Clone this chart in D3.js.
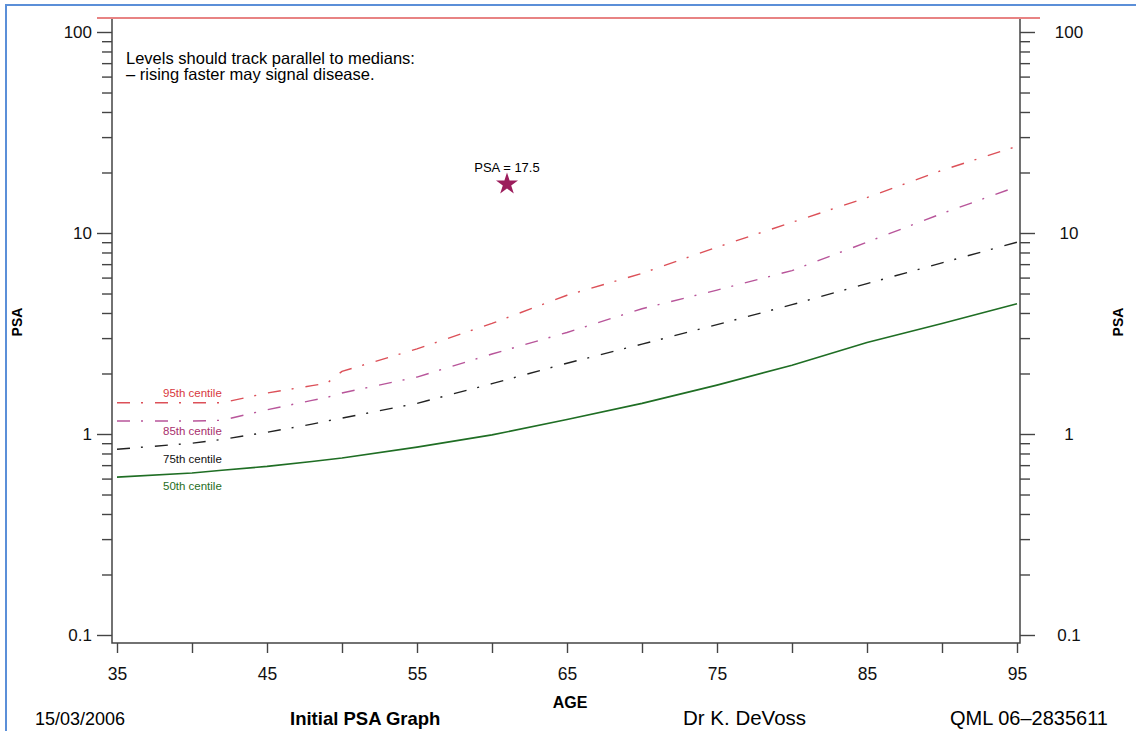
<!DOCTYPE html>
<html>
<head>
<meta charset="utf-8">
<script src="https://cdn.jsdelivr.net/npm/d3@7"></script>
<style>
  body { margin: 0; background: #fff; }
  svg { display: block; font-family: "Liberation Sans", Arial, sans-serif; }
  .tick text { fill: #111; }
</style>
</head>
<body>
<svg id="chart" width="1136" height="731"></svg>
<script>
// centile curves (PSA against age)
const ages   = [35, 40, 42, 45, 48, 49, 50, 55, 60, 65, 70, 75, 80, 85, 90, 95];
const p50    = [0.61, 0.64, 0.66, 0.69, 0.73, 0.745, 0.76, 0.86, 0.99, 1.18, 1.42, 1.75, 2.2, 2.85, 3.55, 4.45];
const p75    = [0.84, 0.9, 0.94, 1.02, 1.12, 1.16, 1.2, 1.42, 1.78, 2.25, 2.8, 3.5, 4.4, 5.6, 7.1, 9.0];
const p85    = [1.16, 1.16, 1.17, 1.32, 1.47, 1.52, 1.6, 1.92, 2.5, 3.2, 4.2, 5.2, 6.5, 9.0, 12.5, 17];
const p95    = [1.43, 1.43, 1.43, 1.6, 1.74, 1.79, 2.05, 2.65, 3.55, 4.9, 6.3, 8.5, 11.3, 15, 20.5, 27];

const centileNames = ["95th centile", "85th centile", "75th centile", "50th centile"];
const centileLabelPsa = [1.6, 1.03, 0.75, 0.55];   // where the little labels sit

const patientAge = 61;
const patientPsa = 17.5;

const xTicks = [35, 40, 45, 50, 55, 60, 65, 70, 75, 80, 85, 90, 95];
const yMajor = [0.1, 1, 10, 100];
const yMinor = [0.2, 0.3, 0.4, 0.5, 0.6, 0.7, 0.8, 0.9, 2, 3, 4, 5, 6, 7, 8, 9, 20, 30, 40, 50, 60, 70, 80, 90];

const note = ["Levels should track parallel to medians:", "\u2013  rising faster may signal disease."];
const footer = ["15/03/2006", "Initial PSA Graph", "Dr K. DeVoss", "QML 06\u20132835611"];

const svg = d3.select("#chart");

const x = d3.scaleLinear().domain([35, 95]).range([117, 1017]);
const y = d3.scaleLog().domain([0.1, 100]).range([635, 32]);

const frameLeft = 112, frameRight = 1020, frameTop = 19, frameBottom = 643;

// blue border round the scan
svg.append("rect")
    .attr("x", 6).attr("y", 5)
    .attr("width", 1140).attr("height", 740)
    .attr("fill", "none")
    .attr("stroke", "#5b8fd8")
    .attr("stroke-width", 2);

// red line across the top
svg.append("line")
    .attr("x1", 97).attr("x2", 1040)
    .attr("y1", 18).attr("y2", 18)
    .attr("stroke", "#e05a5a")
    .attr("stroke-width", 1.6);

// frame
const axisColor = "#444";
svg.append("path")
    .attr("d", `M${frameLeft},${frameTop}V${frameBottom}H${frameRight}V${frameTop}`)
    .attr("fill", "none")
    .attr("stroke", axisColor)
    .attr("stroke-width", 1.5);

// y axes, major and minor ticks on both sides
function yAxis(side, values, size, labels) {
    const ax = (side === "left" ? d3.axisLeft(y) : d3.axisRight(y))
        .tickValues(values)
        .tickSize(size)
        .tickPadding(side === "left" ? 5 : 18)
        .tickFormat(labels ? (d => d3.format("~g")(d)) : "");
    const g = svg.append("g")
        .attr("transform", `translate(${side === "left" ? frameLeft : frameRight},0)`)
        .call(ax);
    g.select(".domain").remove();
    g.selectAll(".tick line").attr("stroke", axisColor).attr("stroke-width", 1.4);
    g.selectAll(".tick text").attr("font-size", 17);
    if (side === "right") g.selectAll(".tick text").attr("text-anchor", "middle").attr("dx", 16);
    return g;
}
yAxis("left", yMajor, 15, true);
yAxis("left", yMinor, 10, false);
yAxis("right", yMajor, 15, true);
yAxis("right", yMinor, 10, false);

// x axis
const gx = svg.append("g")
    .attr("transform", `translate(0,${frameBottom})`)
    .call(d3.axisBottom(x)
        .tickValues(xTicks)
        .tickSize(10)
        .tickPadding(15)
        .tickFormat(d => (d - 35) % 10 === 0 ? d : ""));
gx.select(".domain").remove();
gx.selectAll(".tick line").attr("stroke", axisColor).attr("stroke-width", 1.4);
gx.selectAll(".tick text").attr("font-size", 17.5);

// axis titles
svg.append("text")
    .attr("x", 570).attr("y", 708)
    .attr("text-anchor", "middle")
    .attr("font-size", 16).attr("font-weight", "bold")
    .text("AGE");

[17, 1118].forEach(px => {
    svg.append("text")
        .attr("transform", `translate(${px + 5},322) rotate(-90)`)
        .attr("text-anchor", "middle")
        .attr("font-size", 14).attr("font-weight", "bold")
        .text("PSA");
});

// centile curves
const series = [
    { values: p95, color: "#dc5058", label: "#d8383e", dash: "13,11,2,12" },
    { values: p85, color: "#b8559a", label: "#a8306e", dash: "13,11,2,12" },
    { values: p75, color: "#222", label: "#111", dash: "13,11,2,12" },
    { values: p50, color: "#1f6e24", label: "#1f6e24", dash: null }
];

const line = d3.line()
    .x((d, i) => x(ages[i]))
    .y(d => y(d));

series.forEach((s, i) => {
    svg.append("path")
        .datum(s.values)
        .attr("d", line)
        .attr("fill", "none")
        .attr("stroke", s.color)
        .attr("stroke-width", s.dash ? 1.4 : 1.6)
        .attr("stroke-dasharray", s.dash);

    svg.append("text")
        .attr("x", 163)
        .attr("y", y(centileLabelPsa[i]) + 4)
        .attr("font-size", 11.5)
        .attr("fill", s.label)
        .text(centileNames[i]);
});

// the patient's reading
const star = d3.symbol().type(d3.symbolStar).size(150);
svg.append("path")
    .attr("d", star())
    .attr("transform", `translate(${x(patientAge)},${y(patientPsa)})`)
    .attr("fill", "#9c1d5c");

svg.append("text")
    .attr("x", x(patientAge)).attr("y", y(patientPsa) - 12)
    .attr("text-anchor", "middle")
    .attr("font-size", 13)
    .text("PSA = " + patientPsa);

// note in the top left
svg.selectAll("text.note")
    .data(note)
    .enter().append("text")
    .attr("class", "note")
    .attr("x", 126)
    .attr("y", (d, i) => 64 + i * 16)
    .attr("font-size", 16.5)
    .text(d => d);

// footer line
const footerX = [35, 290, 683, 950];
const footerSize = [18, 18.5, 20.5, 20];
svg.selectAll("text.footer")
    .data(footer)
    .enter().append("text")
    .attr("class", "footer")
    .attr("x", (d, i) => footerX[i])
    .attr("y", 725)
    .attr("font-size", (d, i) => footerSize[i])
    .attr("font-weight", (d, i) => i === 1 ? "bold" : null)
    .text(d => d);
</script>
</body>
</html>
